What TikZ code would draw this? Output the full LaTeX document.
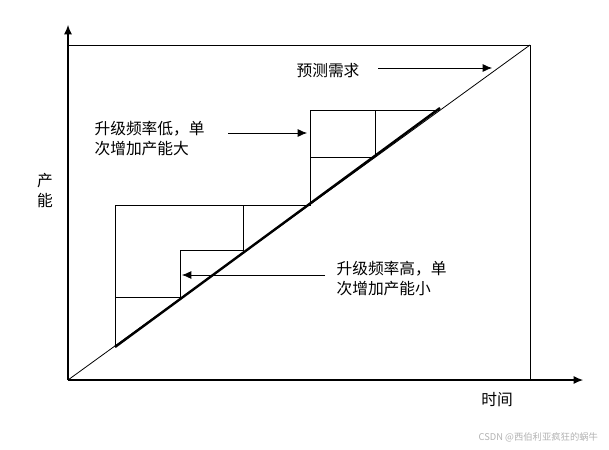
\documentclass[tikz,border=0pt]{standalone}
\usepackage{fontspec}
\usetikzlibrary{arrows.meta}
\newfontfamily\cjk{Noto Sans CJK SC}
\begin{document}
\begin{tikzpicture}[x=0.75pt,y=-0.75pt,line width=0.8pt,
  lbl/.style={font=\cjk\fontsize{11.8}{15}\selectfont,align=left,inner sep=0pt},
  arr/.style={-{Latex[length=7pt,width=6pt]}},
  thin/.style={line width=0.6pt}]
\useasboundingbox (0,0) rectangle (609,449);
\coordinate (o) at (68,380);
\coordinate (ytop) at (68,25);
\coordinate (xend) at (583,380);
\draw[arr] (o) -- (ytop);
\draw[arr] (o) -- (xend);
\draw[thin] (68,45) -- (530,45) -- (530,380);
\draw[thin] (o) -- (530,45);
\draw[line width=1.8pt] (115,347) -- (440,108);
% large steps
\draw[thin] (115,347) -- (115,205) -- (310,205) -- (310,110) -- (375,110) -- (375,157);
\draw[thin] (310,110) -- (440,110);
% small steps
\draw[thin] (115,297) -- (180,297) -- (180,250) -- (243,250) -- (243,205);
\draw[thin] (310,157) -- (375,157);
\node[lbl] (yl) at (45,191) {产\\能};
\node[lbl] (xl) at (497,400) {时间};
\node[lbl,anchor=west] (t1) at (296,71) {预测需求};
\node[lbl,anchor=west] (t2) at (94,139) {升级频率低，单\\次增加产能大};
\node[lbl,anchor=west] (t3) at (336,279) {升级频率高，单\\次增加产能小};
\coordinate (a1) at (492,68);
\coordinate (a2) at (307,133);
\coordinate (a3) at (182,275);
\draw[arr,thin] (378,68) -- (a1);
\draw[arr,thin] (228,133) -- (a2);
\draw[arr,thin] (325,275) -- (a3);
\node[font=\cjk\fontsize{7}{8}\selectfont,text=gray!60,anchor=east] (wm) at (603,437) {CSDN @西伯利亚疯狂的蜗牛};
\end{tikzpicture}
\end{document}
